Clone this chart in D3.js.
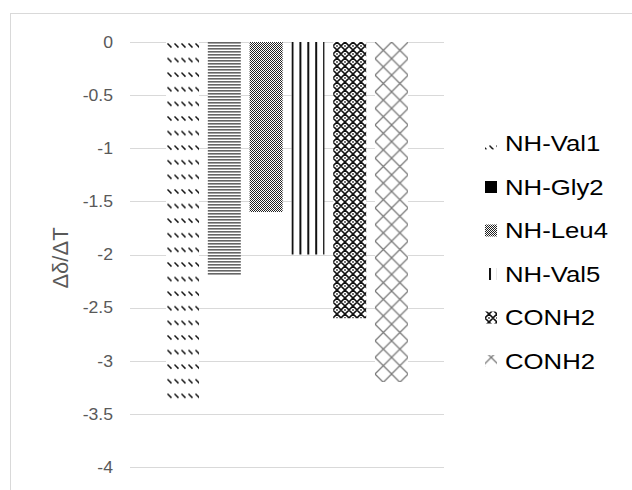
<!DOCTYPE html>
<html><head><meta charset="utf-8">
<script src="https://cdn.jsdelivr.net/npm/d3@7"></script>
<style>body{margin:0;background:#fff}svg{display:block;font-family:"Liberation Sans",Arial,sans-serif}</style>
</head><body><svg id="c" width="632" height="490"></svg>
<script>
const seriesNames = ["NH-Val1","NH-Gly2","NH-Leu4","NH-Val5","CONH2","CONH2"];
const seriesValues = [-3.4,-2.2,-1.6,-2.0,-2.6,-3.2];
const patternIds = ["pVal1","pGly2","pLeu4","pVal5","pConh2a","pConh2b"];
const tickValues = [0,-0.5,-1,-1.5,-2,-2.5,-3,-3.5,-4];
const yTitle = "Δδ/ΔT";

const svg = d3.select("#c");
const defs = svg.append("defs");

function pat(id,w,h){return defs.append("pattern").attr("id",id).attr("patternUnits","userSpaceOnUse").attr("width",w).attr("height",h);}
// Val1: dashed downward diagonal
let p = pat("pVal1",7,14.6).attr("x",166).attr("y",42);
p.append("rect").attr("width",7).attr("height",14.6).attr("fill","#fff");
p.append("line").attr("x1",1.5).attr("y1",1.5).attr("x2",5.5).attr("y2",5.5).attr("stroke","#111").attr("stroke-width",1.5);
// Gly2: narrow horizontal
p = pat("pGly2",4,3);
p.append("rect").attr("width",4).attr("height",3).attr("fill","#fff");
p.append("rect").attr("width",4).attr("height",1.6).attr("fill","#666");
// Leu4: fine checker
p = pat("pLeu4",2,2);
p.append("rect").attr("width",2).attr("height",2).attr("fill","#fff");
p.append("rect").attr("width",1).attr("height",1).attr("fill","#222");
p.append("rect").attr("x",1).attr("y",1).attr("width",1).attr("height",1).attr("fill","#222");
// Val5: wide vertical
p = pat("pVal5",7.9,8).attr("x",291.5);
p.append("rect").attr("width",7.9).attr("height",8).attr("fill","#fff");
p.append("rect").attr("x",0).attr("width",2).attr("height",8).attr("fill","#111");
// CONH2 a: dense diamond/sphere
p = pat("pConh2a",8,8).attr("x",333).attr("y",42);
p.append("rect").attr("width",8).attr("height",8).attr("fill","#fff");
p.append("path").attr("d","M0,4L4,0L8,4L4,8Z").attr("fill","none").attr("stroke","#111").attr("stroke-width",1.6);
p.append("circle").attr("cx",4).attr("cy",4).attr("r",0.9).attr("fill","#333");
// CONH2 b: outlined diamond lattice
p = pat("pConh2b",16.6,16.6).attr("x",375).attr("y",42);
p.append("rect").attr("width",16.6).attr("height",16.6).attr("fill","#fff");
p.append("path").attr("d","M0,0L16.6,16.6M16.6,0L0,16.6").attr("stroke","#7a7a7a").attr("stroke-width",1.3);

// chart border
svg.append("rect").attr("x",10.5).attr("y",13.5).attr("width",640).attr("height",500)
  .attr("fill","none").attr("stroke","#d9d9d9");

const plotL = 130, plotR = 444;
const y = d3.scaleLinear().domain([0,-4]).range([42,467]);

// gridlines
svg.append("g").selectAll("line").data(tickValues).join("line")
  .attr("x1",plotL).attr("x2",plotR)
  .attr("y1",d=>Math.round(y(d))+0.5).attr("y2",d=>Math.round(y(d))+0.5)
  .attr("stroke","#d9d9d9").attr("stroke-width",1);

// tick labels
svg.append("g").selectAll("text").data(tickValues).join("text")
  .attr("transform",d=>`translate(113,${y(d)+5.8}) scale(1.1,1)`)
  .attr("text-anchor","end").attr("font-size",16).attr("fill","#595959")
  .text(d=>d3.format("")(d).replace("−","-"));

// axis title
svg.append("text").attr("transform","translate(68,258) rotate(-90)")
  .attr("text-anchor","middle").attr("font-size",22).attr("fill","#595959").text(yTitle);

// bars
const xCat = d3.scaleBand().domain(["g"]).range([plotL,plotR]).paddingInner(0).paddingOuter(0.1262);
const xs = d3.scaleBand().domain(d3.range(seriesNames.length)).range([xCat("g"),xCat("g")+xCat.bandwidth()]).paddingInner(0.21).paddingOuter(0.105);
svg.append("g").selectAll("rect").data(seriesValues).join("rect")
  .attr("x",(d,i)=>xs(i)).attr("width",xs.bandwidth())
  .attr("y",y(0)).attr("height",d=>y(d)-y(0))
  .attr("fill",(d,i)=>`url(#${patternIds[i]})`);

// legend
const lg = svg.append("g");
const legendFill = (i)=> i===1 ? "#000" : `url(#${patternIds[i]})`;
const ly = d3.scaleLinear().domain([0,5]).range([143.5,361]);
lg.selectAll("rect").data(seriesNames).join("rect")
  .attr("x",485).attr("y",(d,i)=>ly(i)-6).attr("width",12).attr("height",12)
  .attr("fill",(d,i)=>legendFill(i));
lg.selectAll("text").data(seriesNames).join("text")
  .attr("transform",(d,i)=>`translate(505,${ly(i)+7.5}) scale(1.17,1)`)
  .attr("font-size",22).attr("fill","#000").text(d=>d);
</script></body></html>
